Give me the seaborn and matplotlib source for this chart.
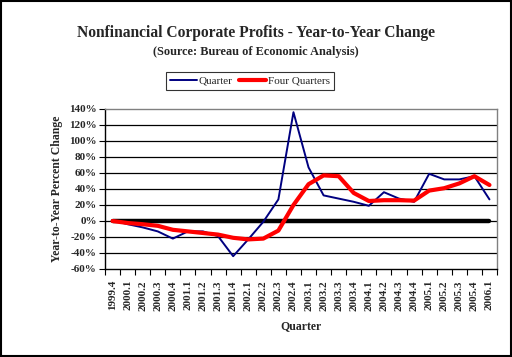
import numpy as np
import pandas as pd
import matplotlib
matplotlib.use("Agg")
import matplotlib.pyplot as plt
from matplotlib.patches import Rectangle
import seaborn as sns

# Quarter labels and the two year-over-year series (percent)
quarters = ['1999.4', '2000.1', '2000.2', '2000.3', '2000.4', '2001.1', '2001.2',
            '2001.3', '2001.4', '2002.1', '2002.2', '2002.3', '2002.4', '2003.1',
            '2003.2', '2003.3', '2003.4', '2004.1', '2004.2', '2004.3', '2004.4',
            '2005.1', '2005.2', '2005.3', '2005.4', '2006.1']
quarter_chg = [1, -4, -8, -13, -22, -13, -13, -19, -44, -23, -1, 27, 136, 67,
               32, 28, 24, 19, 36, 28, 24, 59, 52, 52, 56, 27]
four_q_chg = [0, -2.5, -4, -6, -11, -13, -15, -17, -21, -23, -22, -12, 20, 46,
              57, 56, 35, 25, 26, 26, 25.5, 38, 41, 47, 56, 45]
zero_line = [0] * len(quarters)
y_ticks = [-60, -40, -20, 0, 20, 40, 60, 80, 100, 120, 140]

df = pd.DataFrame({'pos': np.arange(len(quarters)),
                   'Quarter': quarter_chg,
                   'Four Quarters': four_q_chg,
                   'zero': zero_line})

sns.set_style("white")
plt.rcParams['font.family'] = ['Liberation Serif', 'DejaVu Serif']

fig = plt.figure(figsize=(5.12, 3.57), dpi=100)
ax = fig.add_axes([105/512, 1 - 269/357, 392/512, 160/357])

for y in y_ticks[1:-1]:
    ax.axhline(y, color='black', lw=0.9, zorder=1)

sns.lineplot(data=df, x='pos', y='zero', ax=ax, color='black', lw=3.2, zorder=2)
sns.lineplot(data=df, x='pos', y='Quarter', ax=ax, color='#000080', lw=1.4,
             label='Quarter', zorder=3)
sns.lineplot(data=df, x='pos', y='Four Quarters', ax=ax, color='#ff0000', lw=3,
             label='Four Quarters', zorder=4)

ax.set_xlim(-0.5, len(quarters) - 0.5)
ax.set_ylim(-60, 140)
ax.set_yticks(y_ticks)
ax.set_yticklabels([f'{v}%' for v in y_ticks], fontsize=8, fontweight='bold')
ax.set_xticks(df['pos'])
ax.set_xticklabels(quarters, rotation=90, fontsize=8, fontweight='bold')
ax.set_xticks(np.arange(-0.5, len(quarters)), minor=True)
ax.tick_params(axis='x', which='major', length=0, pad=8)
ax.tick_params(axis='x', which='minor', length=4, width=0.8, direction='out', color='black', bottom=True)
ax.tick_params(axis='y', length=4, width=0.8, direction='out', color='black', left=True, pad=2)

ax.set_xlabel('Quarter', fontsize=8.5, fontweight='bold', labelpad=7)
ax.set_ylabel('Year-to-Year Percent Change', fontsize=8.5, fontweight='bold', labelpad=4)

for side in ['left', 'bottom']:
    ax.spines[side].set_color('black')
    ax.spines[side].set_linewidth(1)
for side in ['top', 'right']:
    ax.spines[side].set_color('#808080')
    ax.spines[side].set_linewidth(1)

ax.legend_.remove()
h, l = ax.get_legend_handles_labels()
leg = fig.legend(h, l, loc='center', bbox_to_anchor=(250/512, 1 - 81/357), ncol=2,
                 frameon=True, fancybox=False, fontsize=8, handlelength=2.4,
                 handletextpad=0.2, columnspacing=0.6, borderpad=0.35)
leg.get_frame().set_edgecolor('black')
leg.get_frame().set_linewidth(0.8)

fig.text(256/512, 1 - 33/357, 'Nonfinancial Corporate Profits - Year-to-Year Change',
         ha='center', va='center', fontsize=11.2, fontweight='bold')
fig.text(256/512, 1 - 52/357, '(Source: Bureau of Economic Analysis)',
         ha='center', va='center', fontsize=8.8, fontweight='bold')

fig.patches.append(Rectangle((0.002, 0.003), 0.996, 0.994, transform=fig.transFigure,
                             fill=False, edgecolor='black', lw=1.5))

fig.savefig('out.png', dpi=100)
